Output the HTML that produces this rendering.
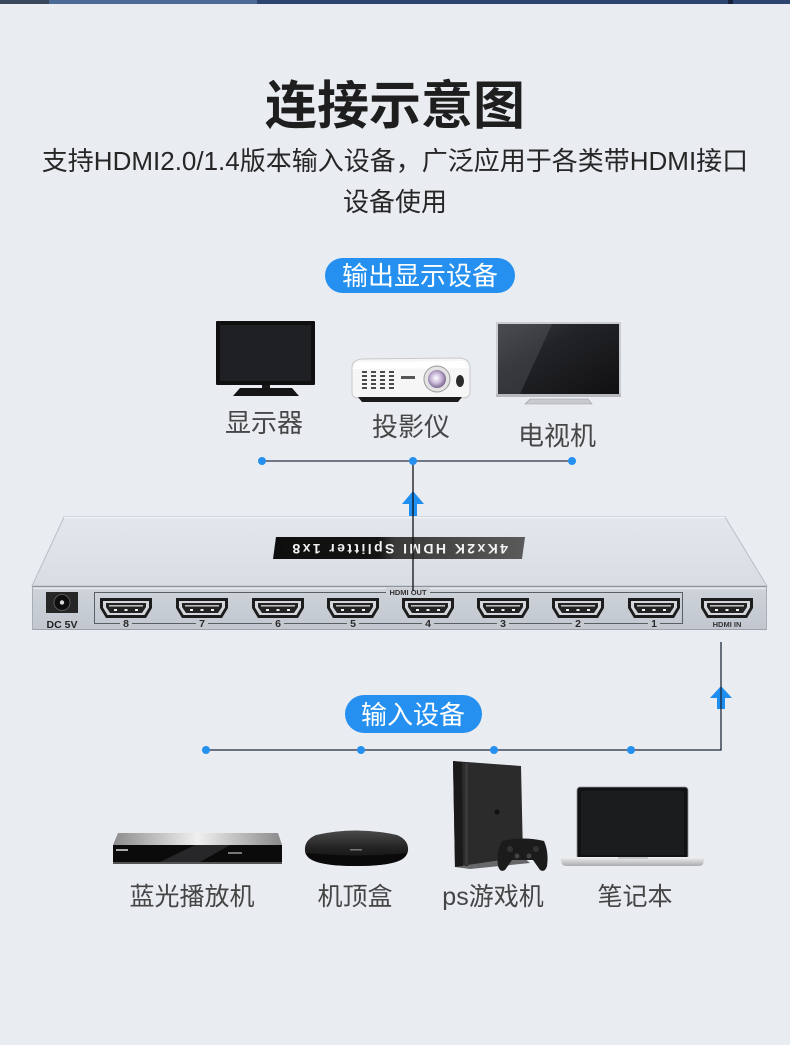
<!DOCTYPE html>
<html>
<head>
<meta charset="utf-8">
<style>
  html,body{margin:0;padding:0;background:#e9ecf1;}
  body{width:790px;height:1045px;overflow:hidden;}
  svg{display:block;}
  .t{font-family:"Liberation Sans","Noto Sans CJK SC",sans-serif;}
</style>
</head>
<body>
<svg width="790" height="1045" viewBox="0 0 790 1045" xmlns="http://www.w3.org/2000/svg">
  <defs>
    <linearGradient id="topface" x1="0" y1="0" x2="0" y2="1">
      <stop offset="0" stop-color="#e3e7ed"/>
      <stop offset="1" stop-color="#d8dde4"/>
    </linearGradient>
    <linearGradient id="frontface" x1="0" y1="0" x2="0" y2="1">
      <stop offset="0" stop-color="#cfd4db"/>
      <stop offset="1" stop-color="#c2c7cf"/>
    </linearGradient>
    <linearGradient id="lbl" x1="0" y1="0" x2="1" y2="0">
      <stop offset="0" stop-color="#0e0e0e"/>
      <stop offset="0.42" stop-color="#141414"/>
      <stop offset="0.48" stop-color="#3a3a3a"/>
      <stop offset="1" stop-color="#5a5a5a"/>
    </linearGradient>
    <linearGradient id="tvscr" x1="0" y1="0" x2="1" y2="1">
      <stop offset="0" stop-color="#3c3e43"/>
      <stop offset="0.35" stop-color="#232428"/>
      <stop offset="1" stop-color="#101012"/>
    </linearGradient>
    <linearGradient id="silver" x1="0" y1="0" x2="1" y2="0">
      <stop offset="0" stop-color="#8c8c8c"/>
      <stop offset="0.5" stop-color="#f0f0f0"/>
      <stop offset="1" stop-color="#8a8a8a"/>
    </linearGradient>
    <linearGradient id="stb" x1="0" y1="0" x2="0" y2="1">
      <stop offset="0" stop-color="#4a4a4a"/>
      <stop offset="0.5" stop-color="#222"/>
      <stop offset="1" stop-color="#0c0c0c"/>
    </linearGradient>
    <linearGradient id="lapbase" x1="0" y1="0" x2="0" y2="1">
      <stop offset="0" stop-color="#f2f2f2"/>
      <stop offset="1" stop-color="#a9abaf"/>
    </linearGradient>
    <radialGradient id="lens" cx="0.45" cy="0.45" r="0.6">
      <stop offset="0" stop-color="#ffffff"/>
      <stop offset="0.5" stop-color="#c9b6d8"/>
      <stop offset="1" stop-color="#6d5a80"/>
    </radialGradient>
    <g id="port">
      <path d="M0,0 H52 V10 L46,20 H6 L0,10 Z" fill="#1c1c1c"/>
      <path d="M3,3 H49 V9.5 L44.5,17 H7.5 L3,9.5 Z" fill="#d3d6db"/>
      <path d="M6,5 H46 V9 L42,15 H10 L6,9 Z" fill="#222"/>
      <rect x="9" y="7" width="34" height="1.6" fill="#bbb"/>
      <rect x="14" y="11" width="3" height="2" fill="#eee"/>
      <rect x="24.5" y="11" width="3" height="2" fill="#eee"/>
      <rect x="35" y="11" width="3" height="2" fill="#eee"/>
    </g>
  </defs>

  <!-- top strip -->
  <rect x="0" y="0" width="790" height="4" fill="#2c4470"/>
  <rect x="0" y="0" width="49" height="4" fill="#38475c"/>
  <rect x="49" y="0" width="208" height="4" fill="#4b6b96"/>
  <rect x="728" y="0" width="5" height="4" fill="#162038"/>

  <!-- title -->
  <text class="t" x="395" y="124" text-anchor="middle" font-size="52" font-weight="700" fill="#1e1e1e">连接示意图</text>
  <text class="t" x="395" y="170" text-anchor="middle" font-size="26" fill="#262626">支持HDMI2.0/1.4版本输入设备，广泛应用于各类带HDMI接口</text>
  <text class="t" x="395" y="211" text-anchor="middle" font-size="26" fill="#262626">设备使用</text>

  <!-- pill output -->
  <rect x="325" y="258" width="190" height="35" rx="17.5" fill="#2590ef"/>
  <text class="t" x="420" y="285" text-anchor="middle" font-size="26" fill="#ffffff">输出显示设备</text>

  <!-- monitor -->
  <rect x="216" y="321" width="99" height="64" rx="1" fill="#0f0f10"/>
  <rect x="220" y="325" width="91" height="56" fill="#1f2023"/>
  <rect x="262" y="385" width="8" height="5" fill="#1a1a1a"/>
  <path d="M240,388 H292 L299,396 H233 Z" fill="#151515"/>
  <text class="t" x="264" y="432" text-anchor="middle" font-size="26" fill="#474747">显示器</text>

  <!-- projector -->
  <path d="M352,368 Q352,360 362,359 L460,358 Q470,359 470,368 L470,392 Q470,398 462,398 L358,398 Q352,398 352,392 Z" fill="#f6f6f6" stroke="#c9c9c9" stroke-width="1"/>
  <path d="M356,362 L464,361 L468,368 L352,369 Z" fill="#ffffff"/>
  <g fill="#4a4a4a">
    <rect x="362" y="371" width="5" height="2"/><rect x="371" y="371" width="5" height="2"/><rect x="380" y="371" width="5" height="2"/><rect x="389" y="371" width="5" height="2"/>
    <rect x="362" y="375" width="5" height="2"/><rect x="371" y="375" width="5" height="2"/><rect x="380" y="375" width="5" height="2"/><rect x="389" y="375" width="5" height="2"/>
    <rect x="362" y="379" width="5" height="2"/><rect x="371" y="379" width="5" height="2"/><rect x="380" y="379" width="5" height="2"/><rect x="389" y="379" width="5" height="2"/>
    <rect x="362" y="383" width="5" height="2"/><rect x="371" y="383" width="5" height="2"/><rect x="380" y="383" width="5" height="2"/><rect x="389" y="383" width="5" height="2"/>
    <rect x="362" y="387" width="5" height="2"/><rect x="371" y="387" width="5" height="2"/><rect x="380" y="387" width="5" height="2"/><rect x="389" y="387" width="5" height="2"/>
  </g>
  <rect x="401" y="376" width="14" height="3" fill="#555"/>
  <circle cx="437" cy="379" r="13" fill="#e4e4e4" stroke="#9a9a9a" stroke-width="1"/>
  <circle cx="437" cy="379" r="9" fill="url(#lens)"/>
  <ellipse cx="460" cy="381" rx="4" ry="6" fill="#2b2b2b"/>
  <path d="M358,397 H462 L458,402 H362 Z" fill="#1c1c1c"/>
  <text class="t" x="411" y="436" text-anchor="middle" font-size="26" fill="#474747">投影仪</text>

  <!-- TV -->
  <rect x="496" y="322" width="125" height="75" fill="#c9ccd0"/>
  <rect x="498" y="324" width="121" height="70" fill="url(#tvscr)"/>
  <path d="M498,324 L552,324 L520,394 L498,394 Z" fill="#6a6d73" opacity="0.3"/>
  <rect x="496" y="394" width="125" height="3" fill="#b5b8bd"/>
  <path d="M530,399 H588 L592,404 H525 Z" fill="#c8cace" stroke="#9a9da2" stroke-width="0.6"/>
  <text class="t" x="557" y="445" text-anchor="middle" font-size="26" fill="#474747">电视机</text>

  <!-- top connectors -->
  <line x1="262" y1="461" x2="572" y2="461" stroke="#2a3447" stroke-width="1.3"/>
  <path d="M413,491 L424,504 L402,504 Z" fill="#1f8ef1"/>
  <rect x="409" y="503" width="8" height="13" fill="#1f8ef1"/>

  <!-- splitter top face -->
  <path d="M64,517 L725,517 L767,586 L32,586 Z" fill="url(#topface)" stroke="#b9bec6" stroke-width="1"/>
  <line x1="64" y1="517.5" x2="725" y2="517.5" stroke="#f4f6f8" stroke-width="1"/>
  <!-- label plate (rotated text) -->
  <path d="M276,537 L525,537 L522,559 L273,559 Z" fill="url(#lbl)"/>
  <text class="t" x="401" y="552" text-anchor="middle" font-size="14" font-weight="700" letter-spacing="2.4" fill="#f2f2f2" transform="rotate(180 400 548)">4Kx2K HDMI Splitter 1x8</text>

  <!-- splitter front face -->
  <rect x="32" y="586" width="735" height="44" fill="url(#frontface)"/>
  <line x1="32" y1="586.5" x2="767" y2="586.5" stroke="#8e949c" stroke-width="1"/>
  <line x1="32" y1="588.5" x2="767" y2="588.5" stroke="#e6e9ed" stroke-width="1.2"/>
  <line x1="32" y1="629.5" x2="767" y2="629.5" stroke="#9ea3ab" stroke-width="1"/>
  <line x1="32.5" y1="586" x2="32.5" y2="630" stroke="#a9aeb5" stroke-width="1"/>
  <line x1="766.5" y1="586" x2="766.5" y2="630" stroke="#a9aeb5" stroke-width="1"/>

  <!-- DC jack -->
  <rect x="46" y="592" width="32" height="21" fill="#262626"/>
  <circle cx="62" cy="602.5" r="8" fill="#0e0e0e" stroke="#555" stroke-width="1"/>
  <circle cx="62" cy="602.5" r="2.2" fill="#ddd"/>
  <text class="t" x="62" y="628" text-anchor="middle" font-size="10.5" font-weight="700" fill="#222">DC 5V</text>

  <!-- HDMI OUT frame -->
  <rect x="94.5" y="592.5" width="588" height="31" fill="none" stroke="#5a5f66" stroke-width="1"/>
  <rect x="386" y="588" width="44" height="8" fill="#cdd2d9"/>
  <text class="t" x="408" y="595" text-anchor="middle" font-size="7.5" font-weight="700" fill="#333">HDMI OUT</text>

  <use href="#port" x="100" y="598"/>
  <use href="#port" x="176" y="598"/>
  <use href="#port" x="252" y="598"/>
  <use href="#port" x="327" y="598"/>
  <use href="#port" x="402" y="598"/>
  <use href="#port" x="477" y="598"/>
  <use href="#port" x="552" y="598"/>
  <use href="#port" x="628" y="598"/>
  <use href="#port" x="701" y="598"/>

  <g fill="#c4c9d0">
    <rect x="120" y="619" width="12" height="9"/>
    <rect x="196" y="619" width="12" height="9"/>
    <rect x="272" y="619" width="12" height="9"/>
    <rect x="347" y="619" width="12" height="9"/>
    <rect x="422" y="619" width="12" height="9"/>
    <rect x="497" y="619" width="12" height="9"/>
    <rect x="572" y="619" width="12" height="9"/>
    <rect x="648" y="619" width="12" height="9"/>
  </g>
  <g class="t" font-size="10.5" font-weight="700" fill="#2a2a2a" text-anchor="middle">
    <text x="126" y="627">8</text>
    <text x="202" y="627">7</text>
    <text x="278" y="627">6</text>
    <text x="353" y="627">5</text>
    <text x="428" y="627">4</text>
    <text x="503" y="627">3</text>
    <text x="578" y="627">2</text>
    <text x="654" y="627">1</text>
  </g>
  <text class="t" x="727" y="627" text-anchor="middle" font-size="7.5" font-weight="700" fill="#333">HDMI IN</text>

  <!-- vertical line into splitter (drawn over arrow) -->
  <line x1="413" y1="461" x2="413" y2="591" stroke="#111" stroke-width="1.3"/>
  <circle cx="262" cy="461" r="4" fill="#2590ef"/>
  <circle cx="413" cy="461" r="4" fill="#2590ef"/>
  <circle cx="572" cy="461" r="4" fill="#2590ef"/>

  <!-- bottom connectors -->
  <path d="M721,686 L732,698 L710,698 Z" fill="#1f8ef1"/>
  <rect x="717" y="697" width="8" height="12" fill="#1f8ef1"/>
  <line x1="721" y1="642" x2="721" y2="750" stroke="#1f2a3d" stroke-width="1.3"/>
  <line x1="206" y1="750" x2="721.6" y2="750" stroke="#1f2a3d" stroke-width="1.3"/>
  <circle cx="206" cy="750" r="4" fill="#2590ef"/>
  <circle cx="361" cy="750" r="4" fill="#2590ef"/>
  <circle cx="494" cy="750" r="4" fill="#2590ef"/>
  <circle cx="631" cy="750" r="4" fill="#2590ef"/>

  <!-- pill input -->
  <rect x="345" y="695" width="137" height="38" rx="19" fill="#2590ef"/>
  <text class="t" x="413" y="724" text-anchor="middle" font-size="26" fill="#ffffff">输入设备</text>

  <!-- Blu-ray player -->
  <path d="M118,833 L278,833 L282,845 L113,845 Z" fill="url(#silver)"/>
  <rect x="113" y="845" width="169" height="17" fill="#0b0b0c"/>
  <path d="M160,862 L195,845 L230,845 L200,862 Z" fill="#3a3b3e" opacity="0.6"/>
  <rect x="116" y="849" width="12" height="2" fill="#aaa"/>
  <rect x="228" y="852" width="14" height="2" fill="#777"/>
  <rect x="113" y="862" width="169" height="2" fill="#555"/>
  <text class="t" x="192" y="905" text-anchor="middle" font-size="25" fill="#454545">蓝光播放机</text>

  <!-- set-top box -->
  <path d="M316,835 Q356,826 397,835 Q409,840 408,851 Q406,866 356,866 Q306,866 305,851 Q304,840 316,835 Z" fill="url(#stb)"/>
  <path d="M306,853 Q356,858 407,853 Q405,866 356,866 Q308,866 306,853 Z" fill="#0a0a0a"/>
  <rect x="350" y="849" width="12" height="1.5" fill="#777"/>
  <text class="t" x="355" y="905" text-anchor="middle" font-size="25" fill="#454545">机顶盒</text>

  <!-- PS4 -->
  <path d="M453,761 L521,766 L523,857 L455,867 Z" fill="#2b2b2c"/>
  <path d="M453,761 L462,762 L463,866 L455,867 Z" fill="#1a1a1a"/>
  <path d="M465,763 L468,763 L468,866 L465,866 Z" fill="#3a3a3b"/>
  <circle cx="497" cy="812" r="2.5" fill="#111"/>
  <path d="M455,867 L523,857 L530,863 L470,869 Z" fill="#111" opacity="0.6"/>
  <!-- controller -->
  <path d="M502,841 Q523,836 544,841 Q549,852 547,866 Q545,873 540,870 L533,860 L512,860 L505,870 Q500,873 498,866 Q496,852 502,841 Z" fill="#1b1b1c"/>
  <circle cx="510" cy="849" r="3" fill="#333"/>
  <circle cx="536" cy="849" r="3" fill="#333"/>
  <circle cx="517" cy="856" r="2.5" fill="#444"/>
  <circle cx="529" cy="856" r="2.5" fill="#444"/>
  <text class="t" x="493" y="905" text-anchor="middle" font-size="25" fill="#454545">ps游戏机</text>

  <!-- laptop -->
  <rect x="577" y="787" width="111" height="72" rx="3" fill="#111214" stroke="#8f9296" stroke-width="0.8"/>
  <rect x="581" y="791" width="103" height="64" fill="#1b1c1e"/>
  <path d="M560,857 L705,857 L703,864 Q702,866 698,866 L567,866 Q563,866 562,864 Z" fill="url(#lapbase)"/>
  <rect x="618" y="857" width="30" height="2" fill="#c8c9cc"/>
  <text class="t" x="635" y="905" text-anchor="middle" font-size="25" fill="#454545">笔记本</text>
</svg>
</body>
</html>
